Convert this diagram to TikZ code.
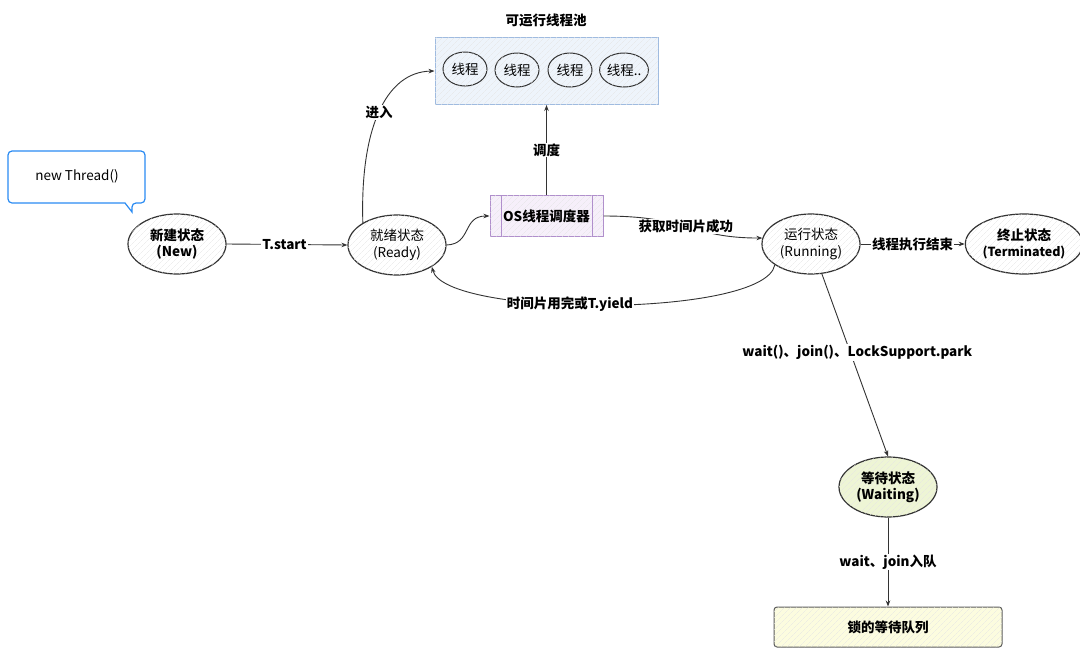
\documentclass[tikz,border=0pt]{standalone}
\usepackage{fontspec}
\setmainfont{Noto Sans CJK SC}
\usetikzlibrary{shapes.geometric,arrows.meta,patterns.meta}
\definecolor{linec}{HTML}{333333}
\definecolor{poolfill}{HTML}{EEF4FB}
\definecolor{pooldraw}{HTML}{9FBBE0}
\definecolor{osfill}{HTML}{F6EFFA}
\definecolor{osdraw}{HTML}{B08FCC}
\definecolor{waitfill}{HTML}{EEF5D5}
\definecolor{queuefill}{HTML}{FCFCDF}
\definecolor{callblue}{HTML}{2A8BF2}
\begin{document}
\begin{tikzpicture}[x=1pt,y=-1pt,
  font=\fontsize{13.5}{16.5}\selectfont,
  hatch/.style={postaction={pattern={Lines[angle=45,distance=4pt,line width=0.4pt]},pattern color=black!10}},
  st/.style={ellipse,draw=linec,line width=1.2pt,minimum width=98pt,minimum height=60pt,
    align=center,inner sep=0pt,fill=white,hatch},
  th/.style={ellipse,draw=linec,line width=1pt,minimum width=44pt,minimum height=34pt,
    inner sep=0pt,fill=poolfill,hatch},
  arr/.style={draw=linec,line width=0.9pt,-{Stealth[length=6pt,width=4.5pt]}},
  lbl/.style={fill=white,inner sep=1pt,font=\fontsize{13.5}{16}\selectfont\bfseries},
]
\useasboundingbox (0,0) rectangle (1080,659);

% callout
\draw[callblue,line width=1.2pt,rounded corners=4pt] (8,151) -- (145,151) -- (145,203) -- (132,203)
  [sharp corners] -- (132,212) -- (125,203) [rounded corners=4pt] -- (8,203) -- cycle;
\node (call) at (77,176) {new Thread()};

% states
\node[st,font=\fontsize{13.5}{16.5}\selectfont\bfseries] (new) at (177,244) {新建状态\\(New)};
\node[st] (ready) at (397,245) {就绪状态\\(Ready)};
\node[st] (run) at (811,244) {运行状态\\(Running)};
\node[st,font=\fontsize{12.5}{16.5}\selectfont\bfseries] (term) at (1024,244) {{\fontsize{13.5}{16.5}\selectfont 终止状态}\\(Terminated)};
\node[st,fill=waitfill,font=\fontsize{13.5}{16.5}\selectfont\bfseries] (wait) at (888,487) {等待状态\\(Waiting)};

% pool
\node[lbl] (pooltitle) at (546,20) {可运行线程池};
\node[draw=pooldraw,line width=1pt,fill=poolfill,hatch,minimum width=223pt,minimum height=67pt,inner sep=0pt] (pool) at (546.5,71) {};
\node[th] (t1) at (465,69) {线程};
\node[th] (t2) at (517,70) {线程};
\node[th] (t3) at (570,70) {线程};
\node[th,minimum width=48pt] (t4) at (624,70) {线程..};

% OS scheduler
\node[draw=osdraw,line width=1pt,fill=osfill,hatch,minimum width=113pt,minimum height=41pt,inner sep=0pt,
  font=\fontsize{13.5}{16}\selectfont\bfseries] (os) at (546.5,216) {OS线程调度器};
\draw[osdraw,line width=1pt] ([xshift=12pt]os.north west) -- ([xshift=12pt]os.south west);
\draw[osdraw,line width=1pt] ([xshift=-11pt]os.north east) -- ([xshift=-11pt]os.south east);

% queue
\node[draw=linec!80,line width=1pt,rounded corners=3pt,fill=queuefill,hatch,minimum width=228pt,minimum height=40pt,
  inner sep=0pt,font=\fontsize{13.5}{16}\selectfont\bfseries] (queue) at (888,627) {锁的等待队列};

% connectors
\draw[arr] (new.east) -- node[lbl,pos=0.48]{T.start} (ready.west);
\draw[arr] (ready.147) .. controls (360,130) and (385,72) .. node[lbl,pos=0.5]{进入} (pool.west);
\draw[arr] (ready.east) .. controls (472,244) and (462,216) .. (os.west);
\draw[arr] (os.north) -- node[lbl]{调度} (pool.south);
\draw[arr] (os.east) .. controls (690,216) and (690,238) .. node[lbl,pos=0.48]{获取时间片成功} (run.173);
\draw[arr] (run.east) -- node[lbl]{线程执行结束} (term.west);
\draw[arr] (run.-150) .. controls (765,318) and (445,318) .. node[lbl,pos=0.57]{时间片用完或T.yield} (ready.-32);
\draw[arr] (run.-70) -- node[lbl,pos=0.43,xshift=7pt]{wait()、join()、LockSupport.park} (wait.north);
\draw[arr] (wait.south) -- node[lbl]{wait、join入队} (queue.north);
\end{tikzpicture}
\end{document}
